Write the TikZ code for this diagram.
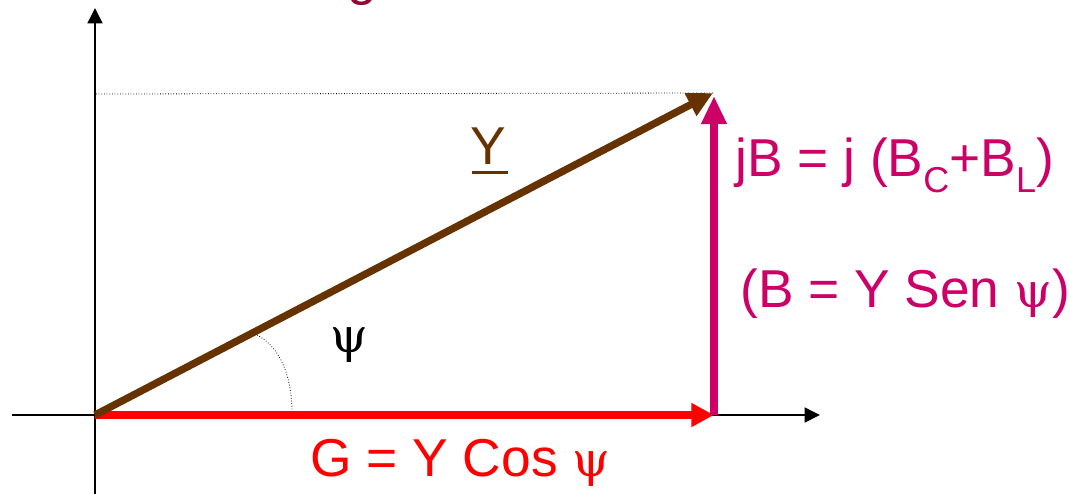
\documentclass[tikz,border=0pt]{standalone}
\usepackage{fontspec}
\setmainfont{Liberation Sans}
\newfontfamily\psifont{DejaVu Serif}
\usetikzlibrary{arrows.meta}
\definecolor{ybrown}{HTML}{663300}
\definecolor{bmag}{HTML}{CC0066}
\definecolor{gred}{HTML}{FF0000}
\definecolor{titlered}{HTML}{990033}
\newcommand\lowsub[1]{\raisebox{-12pt}{\fontsize{27}{27}\selectfont #1}}
\newcommand\psig{{\psifont\fontsize{36}{40}\selectfont ψ}}
\begin{document}
\begin{tikzpicture}[x=0.75pt,y=-0.75pt,
  axis/.style={line width=1.9pt,-{Triangle[length=11.5pt,width=11pt]}},
  vec/.style={line width=5.5pt},
  lbl/.style={anchor=base west,inner sep=0pt,font=\fontsize{40}{48}\selectfont},
  guide/.style={line width=0.6pt,dash pattern=on 0.6pt off 1.4pt}
]
\useasboundingbox (0,0) rectangle (1070,493);
\coordinate (O) at (95,415);
\coordinate (xstart) at (12,415);
\coordinate (xend) at (820,415);
\coordinate (ybot) at (95,500);
\coordinate (ytop) at (95,8);
\coordinate (P) at (713,93);
\coordinate (Pm) at (714,96);
\coordinate (Q) at (714,415);
\coordinate (ylev) at (96,94);
\coordinate (arcA) at (257,335);
\coordinate (arcB) at (292,412);
% title fragment
\node[anchor=base west,inner sep=0pt,titlered,font=\fontsize{40}{48}\selectfont] (title) at (347,-6) {g};
% axes
\draw[axis] (ybot) -- (ytop);
\draw[axis] (xstart) -- (xend);
% guides
\draw[guide] (ylev) -- (P);
\draw[guide] (arcA) .. controls (282,348) and (292,380) .. (arcB);
% vectors
\draw[vec,gred,-{Triangle[length=17pt,width=17pt]}] (O) -- (Q);
\draw[vec,ybrown,-{Triangle[length=19pt,width=18pt]}] (O) -- (P);
\draw[vec,bmag,-{Triangle[length=21pt,width=18pt]}] (Q) -- (Pm);
% labels
\node[lbl,ybrown] (ylab) at (470,164) {Y};
\draw[ybrown,line width=2.25pt] (472,172) -- (508,172);
\node[lbl,black] (psi) at (330,352) {\psig};
\node[lbl,gred] (glab) at (310,476) {G = Y Cos \psig};
\node[lbl,bmag] (jb) at (735,176) {jB = j (B\lowsub{C}+B\lowsub{L})};
\node[lbl,bmag] (bsen) at (740,307) {(B = Y Sen \psig)};
\end{tikzpicture}
\end{document}
